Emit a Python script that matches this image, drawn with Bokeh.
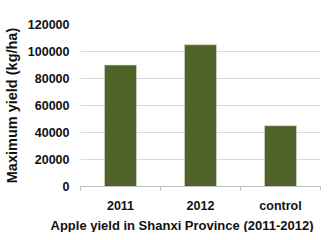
from bokeh.plotting import figure
from bokeh.models import FixedTicker, NumeralTickFormatter, Range1d, ColumnDataSource, Title
from bokeh.embed import file_html
from bokeh.resources import INLINE

categories = ["2011", "2012", "control"]
yields = [90000, 105000, 45000]
y_ticks = [0, 20000, 40000, 60000, 80000, 100000, 120000]
x_title = "Apple yield in Shanxi Province (2011-2012)"
y_title = "Maximum yield (kg/ha)"

positions = list(range(len(categories)))
src = ColumnDataSource(dict(x=positions, top=yields))

p = figure(width=325, height=232, output_backend="svg", toolbar_location=None,
           x_range=Range1d(-0.5, len(categories) - 0.5), y_range=Range1d(0, 120000),
           min_border_left=77, min_border_right=5, min_border_top=24, min_border_bottom=43)
p.outline_line_color = None
p.background_fill_color = "white"
p.border_fill_color = "white"

p.vbar(x="x", top="top", width=0.4, source=src, fill_color="#4f6228",
       line_color="#d8dcc8", line_width=0.6)

font = "Liberation Sans"
txt = "#111111"

xa = p.xaxis[0]
xa.ticker = FixedTicker(ticks=positions,
                        minor_ticks=[i - 0.5 for i in range(len(categories) + 1)])
xa.major_label_overrides = {i: c for i, c in enumerate(categories)}
xa.major_tick_line_color = None
xa.major_tick_out = 0
xa.major_tick_in = 0
xa.minor_tick_out = 4
xa.minor_tick_in = 0
xa.minor_tick_line_color = "#bfbfbf"
xa.axis_line_color = "#bfbfbf"
xa.major_label_text_font = font
xa.major_label_text_font_style = "bold"
xa.major_label_text_font_size = "12.5px"
xa.major_label_text_color = txt
xa.major_label_text_line_height = 1.0
xa.major_label_standoff = 8

xt = Title(text=x_title, align="left", offset=-30, standoff=0,
           text_font=font, text_font_style="bold", text_font_size="13px",
           text_color=txt)
p.add_layout(xt, "below")

ya = p.yaxis[0]
ya.ticker = FixedTicker(ticks=y_ticks)
ya.formatter = NumeralTickFormatter(format="0")
ya.axis_line_color = None
ya.major_tick_line_color = None
ya.minor_tick_line_color = None
ya.major_tick_out = 0
ya.major_tick_in = 0
ya.major_label_text_font = font
ya.major_label_text_font_style = "bold"
ya.major_label_text_font_size = "12.5px"
ya.major_label_text_color = txt
ya.major_label_standoff = 11
ya.axis_label = y_title
ya.axis_label_text_font = font
ya.axis_label_text_font_style = "bold"
ya.axis_label_text_font_size = "14.5px"
ya.axis_label_text_color = txt
ya.axis_label_text_line_height = 1.0
ya.axis_label_standoff = 5

p.xgrid.grid_line_color = None
p.ygrid.grid_line_color = "#d9d9d9"
p.ygrid.grid_line_width = 1

open("out.html", "w").write(file_html(p, INLINE))
